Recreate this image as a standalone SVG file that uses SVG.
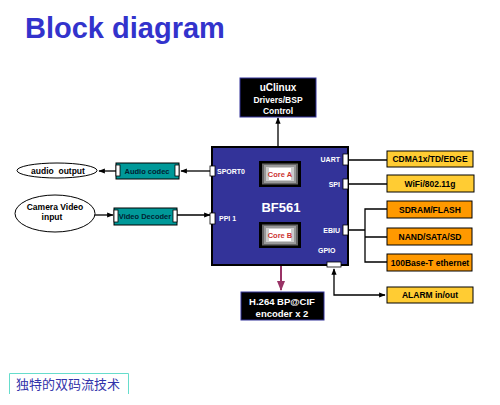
<svg xmlns="http://www.w3.org/2000/svg" width="500" height="405" viewBox="0 0 500 405">
<defs>
<style>
text{font-family:"Liberation Sans",Arial,sans-serif;font-weight:bold}
.port{fill:#fff;stroke:#000;stroke-width:0.8}
.pl{fill:#fff;font-size:7px}
.yel{fill:#FFCC33;stroke:#000;stroke-width:1}
.org{fill:#FF9900;stroke:#000;stroke-width:1}
.bt{font-size:8.5px;fill:#000;text-anchor:middle}
.teal{fill:#009999;stroke:#000;stroke-width:1}
.ln{stroke:#000;stroke-width:1.3;fill:none}
.wt{fill:#fff;text-anchor:middle}
</style>
<marker id="ah" viewBox="0 0 10 10" refX="9" refY="5" markerWidth="5" markerHeight="5" orient="auto-start-reverse"><path d="M0,1 L10,5 L0,9 z" fill="#000"/></marker>
<marker id="ahp" viewBox="0 0 10 10" refX="9" refY="5" markerWidth="5" markerHeight="5" orient="auto"><path d="M0,1 L10,5 L0,9 z" fill="#993366"/></marker>
</defs>
<text x="25" y="38" font-size="29" fill="#3333CC">Block diagram</text>

<g id="connectors">
<path class="ln" d="M278,161 V118" marker-end="url(#ah)"/>
<path d="M281,248 V290" stroke="#993366" stroke-width="2" fill="none" marker-end="url(#ahp)"/>
<path class="ln" d="M212,171 H181" marker-end="url(#ah)"/>
<path class="ln" d="M116,171 H99" marker-end="url(#ah)"/>
<path class="ln" d="M95,215 H113" marker-end="url(#ah)"/>
<path class="ln" d="M177,215 H210" marker-end="url(#ah)"/>
<path class="ln" d="M347,160 H387"/>
<path class="ln" d="M347,184 H387"/>
<path class="ln" d="M347,230 H365 M387,209 H365 V262 H387 M365,237 H387"/>
<path class="ln" d="M334,269 V295 H385" marker-start="url(#ah)" marker-end="url(#ah)"/>
</g>

<g id="uclinux">
<rect x="240" y="78" width="76" height="39" fill="#000" stroke="#333399" stroke-width="1"/>
<text class="wt" x="278" y="91" font-size="10">uClinux</text>
<text class="wt" x="278" y="103" font-size="8.5">Drivers/BSP</text>
<text class="wt" x="278" y="114" font-size="8.5">Control</text>
</g>

<g id="bf561">
<rect x="212" y="147" width="136" height="118" fill="#333399" stroke="#000" stroke-width="2"/>
<text class="wt" x="281" y="212" font-size="13">BF561</text>
<rect class="port" x="210" y="166" width="5" height="10"/>
<text class="pl" x="217" y="174">SPORT0</text>
<rect class="port" x="210" y="213" width="5" height="11"/>
<text class="pl" x="219" y="221">PPI 1</text>
<rect class="port" x="343" y="154" width="5" height="11"/>
<text class="pl" x="340" y="162" text-anchor="end">UART</text>
<rect class="port" x="343" y="179" width="5" height="10"/>
<text class="pl" x="340" y="187" text-anchor="end">SPI</text>
<rect class="port" x="343" y="225" width="5" height="10"/>
<text class="pl" x="340" y="233" text-anchor="end">EBIU</text>
<text class="pl" x="318" y="253">GPIO</text>
<rect class="port" x="327" y="262" width="14" height="5"/>
</g>

<g id="coreA">
<rect x="259" y="161" width="42" height="26" fill="#000"/>
<rect x="262" y="163.5" width="36" height="21" fill="#666"/>
<rect x="264" y="165" width="32" height="18" fill="#999"/>
<rect x="266" y="167" width="28" height="14" fill="#ccc"/>
<rect x="269" y="168" width="22" height="12" fill="#fff"/>
<text x="280" y="177" font-size="7.5" fill="#CC3333" text-anchor="middle">Core A</text>
</g>
<g id="coreB">
<rect x="259" y="222" width="42" height="26" fill="#000"/>
<rect x="262" y="224.5" width="36" height="21" fill="#666"/>
<rect x="264" y="226" width="32" height="18" fill="#999"/>
<rect x="266" y="228" width="28" height="14" fill="#ccc"/>
<rect x="269" y="229" width="22" height="12" fill="#fff"/>
<text x="280" y="238" font-size="7.5" fill="#CC3333" text-anchor="middle">Core B</text>
</g>

<g id="h264">
<rect x="241" y="292" width="83" height="28" fill="#000" stroke="#333399" stroke-width="1"/>
<text class="wt" x="282" y="305" font-size="9.5">H.264 BP@CIF</text>
<text class="wt" x="282" y="317" font-size="9.5">encoder x 2</text>
</g>

<g id="cdma"><rect class="yel" x="387" y="151" width="86" height="16"/><text class="bt" x="430" y="162">CDMA1x/TD/EDGE</text></g>
<g id="wifi"><rect class="yel" x="387" y="175" width="87" height="17"/><text class="bt" x="430" y="187">WiFi/802.11g</text></g>
<g id="sdram"><rect class="org" x="387" y="201" width="85" height="17"/><text class="bt" x="430" y="213">SDRAM/FLASH</text></g>
<g id="nand"><rect class="org" x="387" y="228" width="85" height="17" stroke-width="2"/><text class="bt" x="430" y="240">NAND/SATA/SD</text></g>
<g id="eth"><rect class="org" x="387" y="254" width="85" height="17"/><text class="bt" x="430" y="266">100Base-T ethernet</text></g>
<g id="alarm"><rect class="yel" x="387" y="287" width="86" height="16"/><text class="bt" x="430" y="298">ALARM in/out</text></g>

<g id="audiocodec">
<rect class="teal" x="116" y="163" width="63" height="16"/>
<rect class="port" x="116" y="165" width="4" height="11"/>
<rect class="port" x="175" y="165" width="4" height="11"/>
<text x="147" y="174" font-size="7.5" fill="#002233" text-anchor="middle">Audio codec</text>
</g>
<g id="videodecoder">
<rect class="teal" x="114" y="208" width="63" height="17"/>
<rect class="port" x="114" y="210" width="4" height="12"/>
<rect class="port" x="173" y="210" width="4" height="12"/>
<text x="145" y="219" font-size="7.5" fill="#002233" text-anchor="middle">Video Decoder</text>
</g>

<g id="audiooutput">
<ellipse cx="57" cy="170.5" rx="40" ry="7.5" fill="#fff" stroke="#000" stroke-width="1"/>
<text x="58" y="173.5" font-size="8.5" fill="#000" text-anchor="middle" xml:space="preserve">audio  output</text>
</g>
<g id="camera">
<ellipse cx="55" cy="213.5" rx="40" ry="18.5" fill="#fff" stroke="#000" stroke-width="1"/>
<text x="55" y="210" font-size="8.5" fill="#000" text-anchor="middle">Camera Video</text>
<text x="52" y="220" font-size="8.5" fill="#000" text-anchor="middle">input</text>
</g>

<g id="chinese">
<path d="M9.5,394 V373.5 H128.5 V394" fill="none" stroke="#66DDCC" stroke-width="1"/>
<text x="16" y="389" font-size="13" fill="#3333AA" style="font-family:'Noto Sans CJK SC',sans-serif;font-weight:normal">独特的双码流技术</text>
</g>
</svg>
